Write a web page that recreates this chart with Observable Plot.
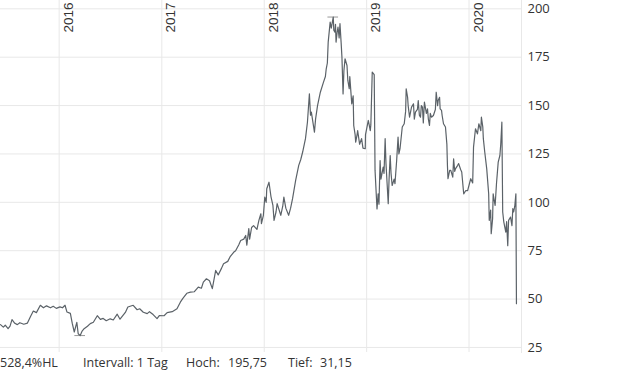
<!DOCTYPE html>
<html><head><meta charset="utf-8">
<script src="https://cdn.jsdelivr.net/npm/d3@7"></script>
<script src="https://cdn.jsdelivr.net/npm/@observablehq/plot@0.6"></script>
<style>
html,body{margin:0;padding:0;background:#fff;}
#chart svg{display:block;}
#info{position:absolute;left:0;top:352px;width:620px;height:20px;font-family:"Open Sans",sans-serif;font-size:12.5px;color:#333;}
#info span{position:absolute;top:2px;white-space:pre;}
</style></head><body>
<div id="chart"></div>
<div id="info"></div>
<script>
const dates = [
"2015-06-06","2015-06-16","2015-06-23","2015-07-03","2015-07-10","2015-07-17","2015-07-27","2015-08-05","2015-08-14","2015-08-28",
"2015-09-10","2015-09-21","2015-10-01","2015-10-12","2015-10-26","2015-11-06","2015-11-17","2015-12-01","2015-12-11","2015-12-22",
"2016-01-04","2016-01-13","2016-01-22","2016-01-29","2016-02-10","2016-02-17","2016-02-24","2016-03-04","2016-03-09","2016-03-16",
"2016-03-23","2016-03-30","2016-04-11","2016-04-21","2016-05-02","2016-05-16","2016-05-27","2016-06-06","2016-06-17","2016-07-01",
"2016-07-12","2016-07-26","2016-08-05","2016-08-24","2016-09-02","2016-09-21","2016-10-05","2016-10-14","2016-10-27","2016-11-10",
"2016-11-18","2016-12-01","2016-12-15","2016-12-23",
"2017-01-09","2017-01-20","2017-02-07","2017-02-24","2017-03-08","2017-03-17","2017-03-31","2017-04-13","2017-04-27","2017-05-11",
"2017-05-22","2017-05-29","2017-06-09","2017-06-20","2017-06-30","2017-07-12","2017-07-21","2017-08-02","2017-08-09","2017-08-24",
"2017-09-01","2017-09-14","2017-09-21","2017-10-02","2017-10-09","2017-10-20","2017-10-27","2017-10-31","2017-11-07","2017-11-10",
"2017-11-17","2017-11-24","2017-12-06","2017-12-13","2017-12-20","2017-12-22","2017-12-29",
"2018-01-03","2018-01-08","2018-01-10","2018-01-18","2018-01-25","2018-02-01","2018-02-05","2018-02-12","2018-02-16","2018-03-01",
"2018-03-08","2018-03-12","2018-03-19","2018-03-29","2018-04-05","2018-04-12","2018-04-23","2018-05-04","2018-05-11","2018-05-18",
"2018-05-28","2018-06-04","2018-06-11","2018-06-15","2018-06-18","2018-06-25","2018-06-29","2018-07-03","2018-07-10","2018-07-20",
"2018-07-31","2018-08-07","2018-08-10","2018-08-14","2018-08-17","2018-08-24","2018-08-28","2018-09-04","2018-09-06","2018-09-10",
"2018-09-12","2018-09-14","2018-09-18","2018-09-21","2018-09-25","2018-09-28","2018-10-02","2018-10-05","2018-10-09","2018-10-12",
"2018-10-16","2018-10-23","2018-10-26","2018-10-31","2018-11-02","2018-11-09","2018-11-14","2018-11-16","2018-11-21","2018-11-23",
"2018-11-28","2018-11-30","2018-12-07","2018-12-14","2018-12-19","2018-12-27","2018-12-28",
"2019-01-07","2019-01-14","2019-01-16","2019-01-21","2019-01-28","2019-01-31","2019-02-07","2019-02-11","2019-02-14","2019-02-18",
"2019-02-21","2019-03-01","2019-03-04","2019-03-08","2019-03-11","2019-03-15","2019-03-19","2019-03-22","2019-03-26","2019-03-29",
"2019-04-02","2019-04-09","2019-04-12","2019-04-18","2019-04-23","2019-04-26","2019-04-30","2019-05-08","2019-05-15","2019-05-20",
"2019-05-22","2019-05-27","2019-05-29","2019-06-03","2019-06-10","2019-06-17","2019-06-20","2019-06-24","2019-07-01","2019-07-04",
"2019-07-08","2019-07-12","2019-07-15","2019-07-19","2019-07-22","2019-07-26","2019-08-02","2019-08-06","2019-08-09","2019-08-13",
"2019-08-16","2019-08-20","2019-08-27","2019-09-03","2019-09-06","2019-09-11","2019-09-13","2019-09-18","2019-09-20","2019-09-25",
"2019-09-27","2019-10-02","2019-10-09","2019-10-14","2019-10-16","2019-10-18","2019-10-24","2019-10-28","2019-11-04","2019-11-07",
"2019-11-11","2019-11-14","2019-11-21","2019-11-25","2019-12-02","2019-12-06","2019-12-13","2019-12-20","2019-12-27",
"2020-01-03","2020-01-07","2020-01-14","2020-01-17","2020-01-24","2020-01-31","2020-02-05","2020-02-12","2020-02-14","2020-02-19",
"2020-02-21","2020-02-26","2020-03-04","2020-03-11","2020-03-13","2020-03-18","2020-03-20","2020-03-25","2020-03-27","2020-04-01",
"2020-04-03","2020-04-08","2020-04-14","2020-04-20","2020-04-23","2020-04-27","2020-04-30","2020-05-04","2020-05-11","2020-05-14",
"2020-05-18","2020-05-21","2020-05-28","2020-06-02","2020-06-05","2020-06-08","2020-06-12","2020-06-16","2020-06-18"
];
const prices = [
36.8,35.5,36.5,34.7,36,39.4,37.5,36.8,37.8,37,
37.6,41,43.8,43,46.8,45.5,46.5,45.5,46.3,45.2,
46,45.5,46.8,43.3,42.6,37.3,33,38,32.1,31.15,
33.5,34.7,36,37.3,38,41.4,39.5,40,38.8,39.8,
39.2,42.2,39.6,43.1,45.9,46.8,44.5,45,43.2,42.5,
43.5,42,39.9,41.5,
41.4,43,43.5,45,48.4,50.4,53,53.6,53.8,56.2,
55.6,58.8,60.5,59.5,55.4,64.8,62.5,66,68.3,69.5,
71.8,74.2,75,78,80.3,81,82.9,77.9,86.4,81,
87,88,86,90.7,94.1,89,93.3,
102.7,100,107,110.4,103,98.4,90.7,95,99.3,93.3,
98,102.7,97,93.3,97,101.9,111.3,119.1,122,126,
132.9,141.4,156.1,145,146.6,140,136.3,143,150,156.9,
162,165,169,172,182.8,193.1,190,195.75,189,187.9,
192,182.8,188,190.5,185,192.3,182.8,175,156,168,
174.2,170.7,163,158.7,165,150.9,155,139.7,135,131.1,
135,137.1,130,132.9,128,127.7,135,
142.3,137,140,167.3,166,116.5,96.6,104.4,99,121.6,
112,118.2,115,132.9,120,109.6,99.3,112,124.2,115,
108.7,112,109.6,121.6,133.7,125,127.7,138.9,140.6,147,
158.7,154.3,150,144,149.2,150.9,143,146.6,148,152.6,
145,144,150,149.2,141,151.8,146,148.3,143,139.7,
146,144,144.9,148,156.9,150,152.6,154.3,148.3,147.5,
145,140.6,138.9,130,119.1,112.2,116.5,116.5,113,122.5,
116,117.4,119,120,117,115.7,104.4,106,106,
110,112.2,110,128.5,138,135.4,140.6,137,144,139,
132.9,126,117.4,104.4,90.7,96,83.8,91.6,104.4,100,
98.4,110,120.8,124.2,130,141.4,95,89.8,84.6,90,
77.6,90.7,92.4,88,96.7,95,98,104.4,47.6
];
const yearStarts = ["2016-01-01","2017-01-01","2018-01-01","2019-01-01","2020-01-01"];
const yTicks = [25,50,75,100,125,150,175,200];
const intervalLabel = "Intervall: 1 Tag";

const data = dates.map((d,i)=>({date:new Date(d), price:prices[i]}));
const hiPt = data.reduce((a,b)=>b.price>a.price?b:a);
const loPt = data.reduce((a,b)=>b.price<a.price?b:a);
const de = d3.formatLocale({decimal:",",thousands:".",grouping:[3],currency:["","€"]});
const f2 = de.format(".2f"), f1 = de.format(".1f");

const chart = Plot.plot({
  width:620, height:358,
  marginTop:0, marginBottom:6, marginLeft:0, marginRight:99,
  x:{type:"utc", domain:[new Date("2015-06-06"), new Date("2020-07-06")], axis:null},
  y:{domain:[22.4,204.3], axis:null},
  style:{fontFamily:"'Open Sans',sans-serif", background:"#fff"},
  marks:[
    Plot.gridY(yTicks,{stroke:"#e8e8e8",strokeOpacity:1}),
    Plot.ruleX(yearStarts,{x:d=>new Date(d),stroke:"#e8e8e8"}),
    Plot.frame({anchor:"right",stroke:"#e8e8e8"}),
    Plot.text(yTicks,{y:d=>d,frameAnchor:"right",textAnchor:"start",dx:6,text:d=>String(d),fontSize:13,fill:"#333"}),
    Plot.text(yearStarts,{x:d=>new Date(d),frameAnchor:"top",text:d=>d.slice(0,4),rotate:-90,textAnchor:"end",lineAnchor:"top",dx:4,dy:2,fontSize:13.5,fontFamily:"'Liberation Sans',Arial,sans-serif",fill:"#333"}),
    Plot.ruleY([hiPt,loPt],{y:"price",x1:d=>d3.utcDay.offset(d.date,-19),x2:d=>d3.utcDay.offset(d.date,19),stroke:"#999",strokeWidth:1}),
    Plot.line(data,{x:"date",y:"price",stroke:"#5b6268",strokeWidth:1.2})
  ]
});
document.getElementById("chart").appendChild(chart);

const pct = (hiPt.price-loPt.price)/loPt.price*100;
const info = [
  [0, f1(pct)+"%HL"],
  [83, intervalLabel],
  [186, "Hoch:"],
  [228, f2(hiPt.price)],
  [288, "Tief:"],
  [320, f2(loPt.price)]
];
const infoDiv = document.getElementById("info");
info.forEach(([left,t])=>{const s=document.createElement("span");s.style.left=left+"px";s.textContent=t;infoDiv.appendChild(s);});
</script>
</body></html>
